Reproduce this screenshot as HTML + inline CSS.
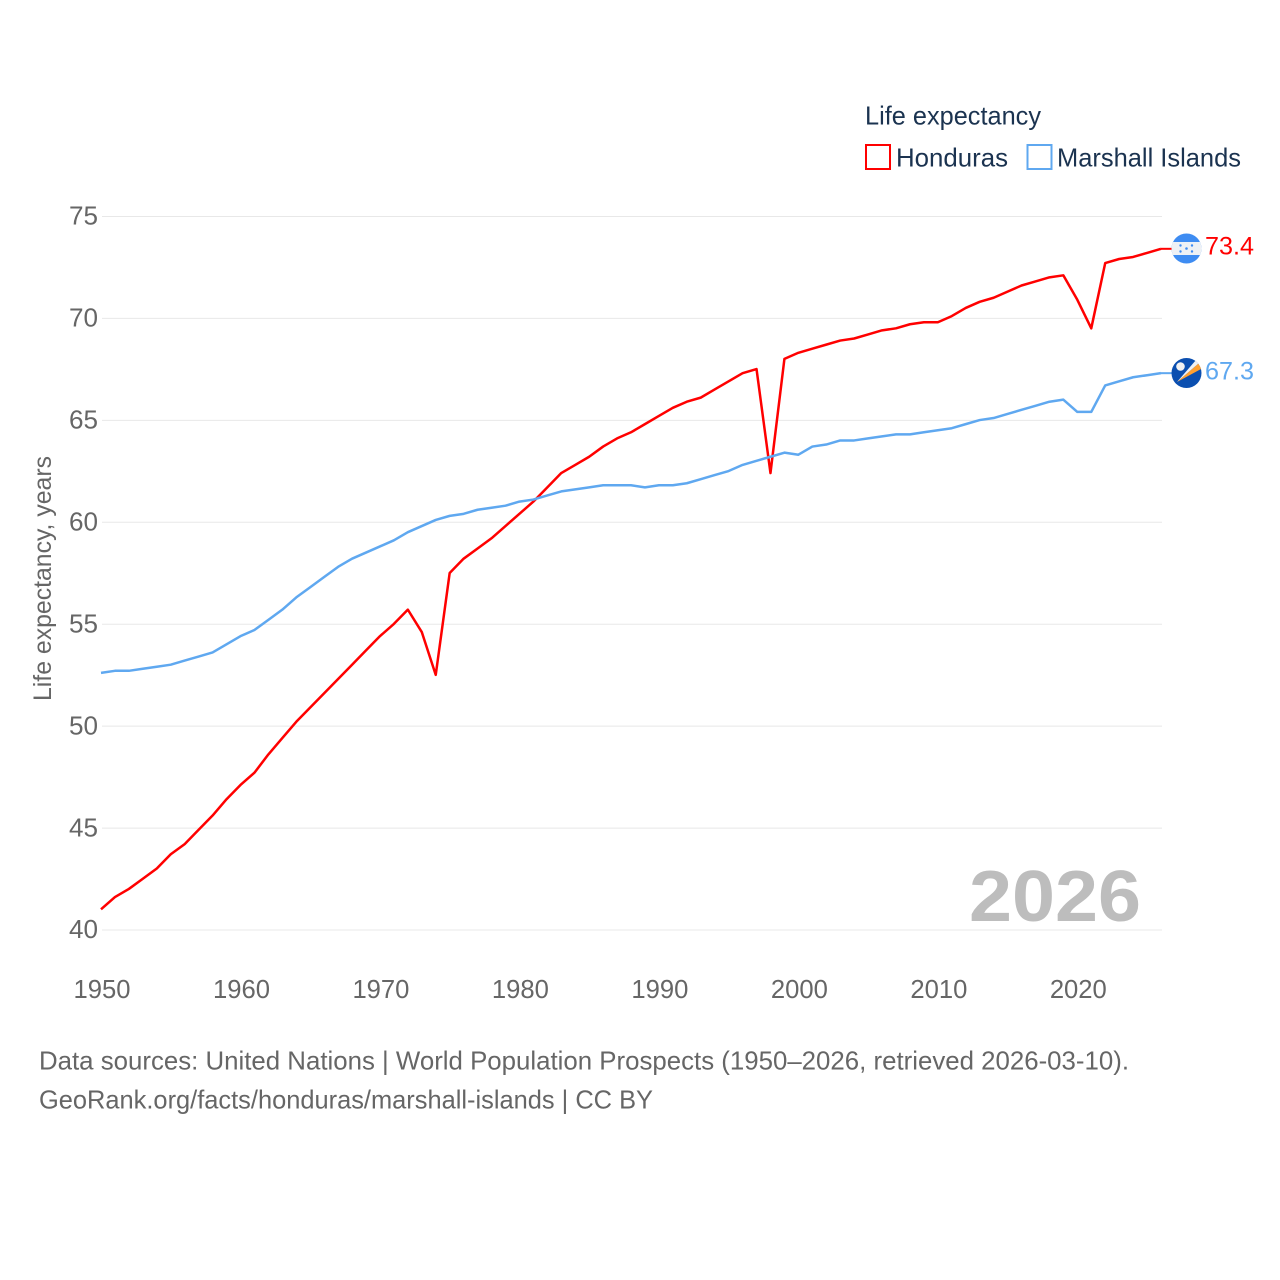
<!DOCTYPE html>
<html lang="en">
<head>
<meta charset="utf-8">
<title>Life expectancy: Honduras and Marshall Islands</title>
<style>
html,body{margin:0;padding:0;background:#fff;width:1280px;height:1280px;overflow:hidden}
svg{display:block}
text{font-family:"Liberation Sans",sans-serif}
</style>
</head>
<body>
<svg id="chart" width="1280" height="1280" viewBox="0 0 1280 1280" xmlns="http://www.w3.org/2000/svg">
  <rect width="1280" height="1280" fill="#fff"/>
  <g id="grid"></g>
  <g id="yticks"></g>
  <g id="xticks"></g>
  <text transform="translate(51,701) rotate(-90)" font-size="25" fill="#666" textLength="245" lengthAdjust="spacingAndGlyphs">Life expectancy, years</text>
  <text x="969" y="921" font-size="72" font-weight="bold" fill="#bdbdbd" textLength="172" lengthAdjust="spacingAndGlyphs">2026</text>
  <path id="line-honduras" fill="none" stroke="#ff0000" stroke-width="2.5" stroke-linejoin="round"/>
  <path id="line-marshall" fill="none" stroke="#5fa8f0" stroke-width="2.5" stroke-linejoin="round"/>
  <path id="conn-honduras" fill="none" stroke="#ff0000" stroke-width="2"/>
  <path id="conn-marshall" fill="none" stroke="#5fa8f0" stroke-width="2"/>

  <defs>
    <clipPath id="clip-hn"><circle cx="1186.500" cy="248.500" r="15"/></clipPath>
    <clipPath id="clip-mh"><circle cx="1186.500" cy="373" r="15"/></clipPath>
  </defs>
  <g clip-path="url(#clip-hn)">
    <rect x="1170" y="233" width="34" height="32" fill="#3e8cf2"/>
    <rect x="1170" y="242" width="34" height="13" fill="#eef1f5"/>
    <g fill="#3e8cf2">
      <circle cx="1186.500" cy="248.500" r="1.300"/>
      <circle cx="1180.500" cy="245.500" r="1.200"/>
      <circle cx="1192" cy="245.500" r="1.200"/>
      <circle cx="1180.500" cy="251.500" r="1.200"/>
      <circle cx="1192" cy="251.500" r="1.200"/>
    </g>
  </g>
  <g clip-path="url(#clip-mh)">
    <rect x="1170" y="357" width="34" height="32" fill="#0b4fb0"/>
    <polygon points="1177,382 1199,363 1203,368" fill="#ffa030"/>
    <polygon points="1177,382 1196,360 1199,363" fill="#f2f2f2"/>
    <circle cx="1180.500" cy="366.500" r="4.300" fill="#f2f2f2"/>
  </g>
  <text id="value-honduras" x="1205" y="254.500" font-size="25" fill="#ff0000" textLength="49" lengthAdjust="spacingAndGlyphs">73.4</text>
  <text id="value-marshall" x="1205" y="379.500" font-size="25" fill="#5fa8f0" textLength="49" lengthAdjust="spacingAndGlyphs">67.3</text>

  <g>
    <text x="865" y="124.500" font-size="26" fill="#1b3350" textLength="176" lengthAdjust="spacingAndGlyphs">Life expectancy</text>
    <rect x="866" y="145" width="24" height="24" fill="#fff" stroke="#ff0000" stroke-width="2"/>
    <text x="896" y="166.500" font-size="26" fill="#1b3350" textLength="112" lengthAdjust="spacingAndGlyphs">Honduras</text>
    <rect x="1027.500" y="145" width="24" height="24" fill="#fff" stroke="#5fa8f0" stroke-width="2"/>
    <text x="1057" y="166.500" font-size="26" fill="#1b3350" textLength="184" lengthAdjust="spacingAndGlyphs">Marshall Islands</text>
  </g>
  <g>
    <text x="39" y="1069.500" font-size="26" fill="#666" textLength="1090" lengthAdjust="spacingAndGlyphs">Data sources: United Nations | World Population Prospects (1950–2026, retrieved 2026-03-10).</text>
    <text x="39" y="1108.500" font-size="26" fill="#666" textLength="614" lengthAdjust="spacingAndGlyphs">GeoRank.org/facts/honduras/marshall-islands | CC BY</text>
  </g>
</svg>
<script>
const firstYear = 1950;
const lastYear = 2026;
const yTickValues = [40, 45, 50, 55, 60, 65, 70, 75];
const xTickValues = [1950, 1960, 1970, 1980, 1990, 2000, 2010, 2020];
const hondurasValues = [
  41.0,41.6,42.0,42.5,43.0,43.7,44.2,44.9,45.6,46.4,
  47.1,47.7,48.6,49.4,50.2,50.9,51.6,52.3,53.0,53.7,
  54.4,55.0,55.7,54.6,52.5,57.5,58.2,58.7,59.2,59.8,
  60.4,61.0,61.7,62.4,62.8,63.2,63.7,64.1,64.4,64.8,
  65.2,65.6,65.9,66.1,66.5,66.9,67.3,67.5,62.4,68.0,
  68.3,68.5,68.7,68.9,69.0,69.2,69.4,69.5,69.7,69.8,
  69.8,70.1,70.5,70.8,71.0,71.3,71.6,71.8,72.0,72.1,
  70.9,69.5,72.7,72.9,73.0,73.2,73.4
];
const marshallValues = [
  52.6,52.7,52.7,52.8,52.9,53.0,53.2,53.4,53.6,54.0,
  54.4,54.7,55.2,55.7,56.3,56.8,57.3,57.8,58.2,58.5,
  58.8,59.1,59.5,59.8,60.1,60.3,60.4,60.6,60.7,60.8,
  61.0,61.1,61.3,61.5,61.6,61.7,61.8,61.8,61.8,61.7,
  61.8,61.8,61.9,62.1,62.3,62.5,62.8,63.0,63.2,63.4,
  63.3,63.7,63.8,64.0,64.0,64.1,64.2,64.3,64.3,64.4,
  64.5,64.6,64.8,65.0,65.1,65.3,65.5,65.7,65.9,66.0,
  65.4,65.4,66.7,66.9,67.1,67.2,67.3
];

const SVG_NS = 'http://www.w3.org/2000/svg';
function xScale(year) {
  return 101 + (year - firstYear) * (1161 - 101) / (lastYear - firstYear);
}
function yScale(value) {
  return 929.700 - (value - 40) * (929.700 - 216.200) / 35;
}
function linePath(values) {
  return values.map(function (v, i) {
    return (i ? 'L' : 'M') + xScale(firstYear + i).toFixed(2) + ' ' + yScale(v).toFixed(2);
  }).join(' ');
}
const gridGroup = document.getElementById('grid');
const yGroup = document.getElementById('yticks');
const xGroup = document.getElementById('xticks');
yTickValues.forEach(function (t) {
  const gl = document.createElementNS(SVG_NS, 'line');
  
  
  gl.setAttribute('x1', 102);
  gl.setAttribute('x2', 1162);
  gl.setAttribute('y1', yScale(t) + 0.300);
  gl.setAttribute('y2', yScale(t) + 0.300);
  gl.setAttribute('stroke', '#e8e8e8');
  gl.setAttribute('stroke-width', '1');
  gridGroup.appendChild(gl);
  const lb = document.createElementNS(SVG_NS, 'text');
  
  
  lb.setAttribute('x', 69);
  lb.setAttribute('y', yScale(t) + 8.500);
  lb.setAttribute('font-size', '26');
  lb.setAttribute('fill', '#666');
  lb.setAttribute('textLength', '29');
  lb.setAttribute('lengthAdjust', 'spacingAndGlyphs');
  lb.textContent = String(t);
  yGroup.appendChild(lb);
});
xTickValues.forEach(function (t) {
  const lb = document.createElementNS(SVG_NS, 'text');
  
  
  lb.setAttribute('x', xScale(t) - 27.500);
  lb.setAttribute('y', 998);
  lb.setAttribute('font-size', '26');
  lb.setAttribute('fill', '#666');
  lb.setAttribute('textLength', '57');
  lb.setAttribute('lengthAdjust', 'spacingAndGlyphs');
  lb.textContent = String(t);
  xGroup.appendChild(lb);
});
document.getElementById('line-honduras').setAttribute('d', linePath(hondurasValues));
document.getElementById('line-marshall').setAttribute('d', linePath(marshallValues));
const hnEnd = hondurasValues[hondurasValues.length - 1];
const mhEnd = marshallValues[marshallValues.length - 1];
document.getElementById('conn-honduras').setAttribute('d', 'M' + xScale(lastYear) + ' ' + yScale(hnEnd) + ' L1172 ' + yScale(hnEnd));
document.getElementById('conn-marshall').setAttribute('d', 'M' + xScale(lastYear) + ' ' + yScale(mhEnd) + ' L1172 ' + yScale(mhEnd));
document.getElementById('value-honduras').textContent = hnEnd.toFixed(1);
document.getElementById('value-marshall').textContent = mhEnd.toFixed(1);
</script>
</body>
</html>
